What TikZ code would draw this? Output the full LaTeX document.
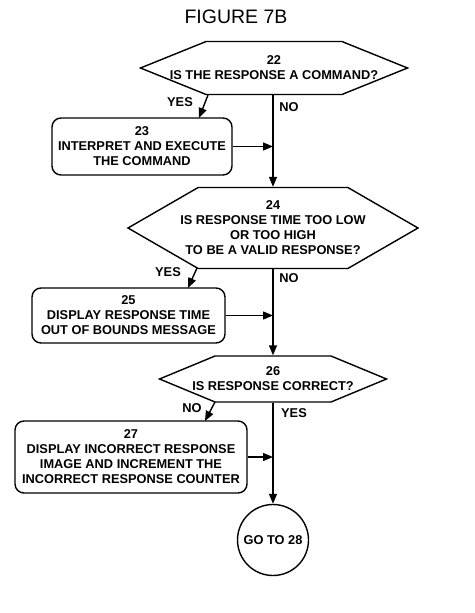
\documentclass[tikz,border=0pt]{standalone}
\usepackage{fontspec}
\setmainfont{Liberation Sans}
\usetikzlibrary{shapes.symbols,arrows.meta,positioning,calc}

\begin{document}
\begin{tikzpicture}[x=1pt, y=-1pt]
    % Define styles
    \tikzset{
        txt/.style={font=\bfseries\fontsize{12.8}{15}\selectfont, align=center},
        decision/.style={txt, draw, line width=1.4pt, shape=signal, signal to=west and east, inner xsep=-60pt, inner ysep=0pt},
        process/.style={txt, draw, line width=1.4pt, rectangle, rounded corners=9pt, inner sep=0pt},
        goto/.style={txt, draw, line width=1.4pt, circle, inner sep=0pt, minimum size=71pt},
        arrow/.style={-{Triangle[length=10pt,width=8pt]}, line width=1.4pt}
    }
    \useasboundingbox (0,0) rectangle (474,613);

    % Place nodes
    \node[font=\fontsize{19.5}{22}\selectfont] (title) at (236,17) {FIGURE 7B};
    \node[decision, minimum width=267pt, minimum height=53pt, signal pointer angle=44] (d22) at (274,68) {22\\IS THE RESPONSE A COMMAND?};
    \node[process, minimum width=180pt, minimum height=57pt] (b23) at (142,146.5) {23\\INTERPRET AND EXECUTE\\THE COMMAND};
    \node[decision, minimum width=290pt, minimum height=81pt, signal pointer angle=60] (d24) at (273,228) {24\\IS RESPONSE TIME TOO LOW\\OR TOO HIGH\\TO BE A VALID RESPONSE?};
    \node[process, minimum width=193pt, minimum height=55pt] (b25) at (128.5,315.5) {25\\DISPLAY RESPONSE TIME\\OUT OF BOUNDS MESSAGE};
    \node[decision, minimum width=227pt, minimum height=46pt, signal pointer angle=45] (d26) at (273,379) {26\\IS RESPONSE CORRECT?};
    \node[process, minimum width=232pt, minimum height=72pt] (b27) at (131,457) {27\\DISPLAY INCORRECT RESPONSE\\IMAGE AND INCREMENT THE\\INCORRECT RESPONSE COUNTER};
    \node[goto] (go28) at (273,540) {GO TO 28};

    % corners of the decisions and tips on the boxes
    \coordinate (c22) at (208,95);
    \coordinate (t23) at (199,118);
    \coordinate (c24) at (197,268);
    \coordinate (t25) at (188,288);
    \coordinate (c26) at (215,402);
    \coordinate (t27) at (205,421);

    % Draw arrows
    \draw[arrow] (d22.south -| d24.north) -- (d24.north);
    \draw[arrow] (d24.south) -- (d26.north);
    \draw[arrow] (d26.south) -- (go28.north);
    \draw[arrow] (c22) -- (t23);
    \draw[arrow] (c24) -- (t25);
    \draw[arrow] (c26) -- (t27);
    \draw[arrow] (b23.east) -- (b23.east -| d24.north);
    \draw[arrow] (b25.east) -- (b25.east -| d24.south);
    \draw[arrow] (b27.east) -- (b27.east -| d26.south);

    % Labels
    \node[txt] (yes22) at (180,102) {YES};
    \node[txt] (no22) at (289,107) {NO};
    \node[txt] (yes24) at (168,272) {YES};
    \node[txt] (no24) at (289,278) {NO};
    \node[txt] (no26) at (192,408) {NO};
    \node[txt] (yes26) at (294,413) {YES};
\end{tikzpicture}
\end{document}
